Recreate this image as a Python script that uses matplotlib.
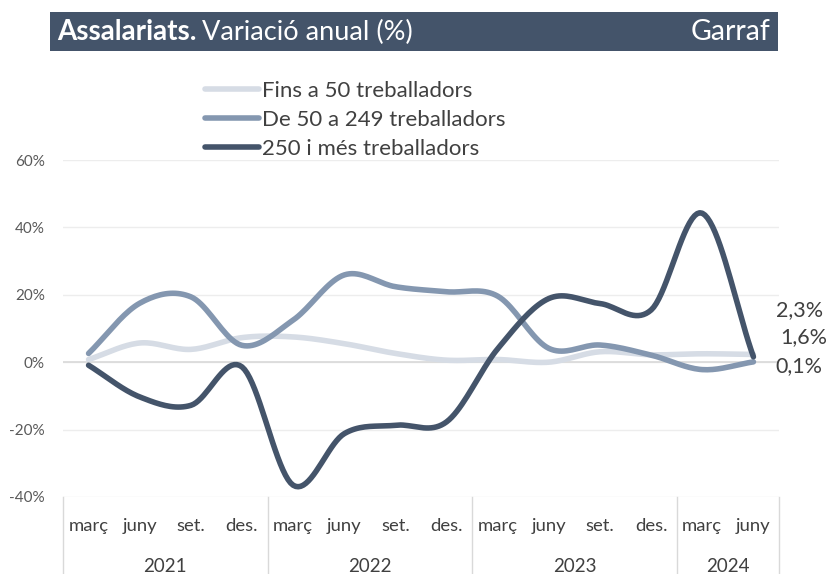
import matplotlib.pyplot as plt
import matplotlib.transforms as mtransforms
import numpy as np

plt.rcParams['font.family'] = ['Lato', 'DejaVu Sans']

# data (variació anual, %)
months = ['març', 'juny', 'set.', 'des.'] * 3 + ['març', 'juny']
years = ['2021', '2022', '2023', '2024']
year_counts = [4, 4, 4, 2]

fins_50 = [0.8, 5.7, 3.8, 7.3, 7.5, 5.5, 2.6, 0.6, 0.8, 0.0, 3.1, 2.2, 2.5, 2.3]
de_50_249 = [2.6, 17.5, 19.4, 5.0, 12.5, 25.9, 22.4, 20.9, 19.6, 4.1, 5.1, 2.1, -2.2, 0.1]
mes_250 = [-0.9, -10.3, -12.8, -1.4, -36.5, -21.2, -18.7, -17.7, 4.0, 18.9, 17.4, 15.5, 44.2, 1.6]

series_names = ['Fins a 50 treballadors', 'De 50 a 249 treballadors', '250 i més treballadors']
colors = ['#D6DCE5', '#8497B0', '#44546A']
end_labels = ['2,3%', '0,1%', '1,6%']
label_offsets = [(16, 32), (16, -3), (19, 14)]


def smooth(y, n=20):
    # catmull-rom curve through the points, like excel's smoothed lines
    y = np.asarray(y, dtype=float)
    x = np.arange(len(y), dtype=float)
    px = np.concatenate([[2 * x[0] - x[1]], x, [2 * x[-1] - x[-2]]])
    py = np.concatenate([[2 * y[0] - y[1]], y, [2 * y[-1] - y[-2]]])
    xs, ys = [], []
    for i in range(1, len(px) - 2):
        t = np.linspace(0, 1, n, endpoint=False)
        for arr, out in ((px, xs), (py, ys)):
            p0, p1, p2, p3 = arr[i - 1], arr[i], arr[i + 1], arr[i + 2]
            out.extend(0.5 * (2 * p1 + (-p0 + p2) * t
                              + (2 * p0 - 5 * p1 + 4 * p2 - p3) * t ** 2
                              + (-p0 + 3 * p1 - 3 * p2 + p3) * t ** 3))
    xs.append(x[-1])
    ys.append(y[-1])
    return np.array(xs), np.array(ys)


fig = plt.figure(figsize=(8.27, 5.74), dpi=100)
ax = fig.add_axes([63 / 827, 1 - 497 / 574, (779 - 63) / 827, (497 - 160) / 574])

ax.set_xlim(-0.5, len(months) - 0.5)
ax.set_ylim(-40, 60)
ax.set_yticks([-40, -20, 0, 20, 40, 60])
ax.set_yticklabels(['-40%', '-20%', '0%', '20%', '40%', '60%'])
ax.tick_params(axis='y', length=0, labelsize=11, labelcolor='#595959', pad=13)
ax.set_xticks([])
for s in ax.spines.values():
    s.set_visible(False)
ax.grid(axis='y', color='#EDEDED', linewidth=1)
ax.set_axisbelow(True)
ax.axhline(0, color='#D9D9D9', linewidth=1.2, zorder=1)

values = [fins_50, de_50_249, mes_250]
for vals, col, name, lab, off in zip(values, colors, series_names, end_labels, label_offsets):
    sx, sy = smooth(vals)
    ax.plot(sx, sy, color=col, linewidth=4, solid_capstyle='round', label=name, zorder=3)
    ax.annotate(lab, xy=(len(vals) - 1, vals[-1]), xytext=off, textcoords='offset points',
                fontsize=15.5, color='#404040', va='center', ha='left', annotation_clip=False)

# category axis: months and years with separators
trans = mtransforms.blended_transform_factory(ax.transData, ax.transAxes)
for i, m in enumerate(months):
    ax.text(i, -0.085, m, transform=trans, ha='center', va='center', fontsize=13.3, color='#404040')
start = 0
bounds = [-0.5]
for yr, cnt in zip(years, year_counts):
    ax.text(start + (cnt - 1) / 2, -0.205, yr, transform=trans, ha='center', va='center',
            fontsize=13.5, color='#404040')
    start += cnt
    bounds.append(start - 0.5)
for b in bounds:
    ax.plot([b, b], [0, -0.23], transform=trans, color='#D9D9D9', linewidth=1, clip_on=False)

# legend
ax.legend(loc='upper left', bbox_to_anchor=(185 / 827, 1 - 61 / 574), bbox_transform=fig.transFigure,
          frameon=False, fontsize=16, labelcolor='#404040', handlelength=2.45, handletextpad=0.1,
          labelspacing=0.41)

# title bar
bar = plt.Rectangle((50 / 827, 1 - 51 / 574), (778 - 50) / 827, 39 / 574, transform=fig.transFigure,
                    facecolor='#44546A', edgecolor='none')
fig.patches.append(bar)
t1 = fig.text(57 / 827, 1 - 32 / 574, 'Assalariats.', color='white', fontsize=20, fontweight='bold',
              va='center', ha='left')
fig.canvas.draw()
bb = t1.get_window_extent()
fig.text(bb.x1 / 827 + 0.007, 1 - 32 / 574, 'Variació anual (%)', color='white', fontsize=19.5,
         va='center', ha='left')
fig.text(771 / 827, 1 - 32 / 574, 'Garraf', color='white', fontsize=20.5, va='center', ha='right')

fig.savefig('out.png', dpi=100)
